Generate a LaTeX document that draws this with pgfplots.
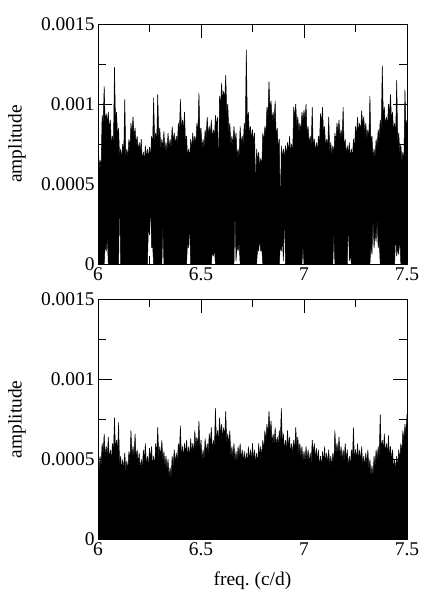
\documentclass[border=0pt]{standalone}
\usepackage{pgfplots}
\pgfplotsset{compat=1.18}
\usepackage{fontspec}
\setmainfont{Liberation Serif}
\newcommand{\lbl}{\fontsize{19.5}{23}\selectfont}
\pgfplotsset{spec/.style={scale only axis, width=309bp, height=240bp,
  xmin=6, xmax=7.5, ymin=0, ymax=0.0015,
  xtick={6,6.5,7,7.5}, xticklabels={6,6.5,7,7.5},
  ytick={0,0.0005,0.001,0.0015}, yticklabels={0,0.0005,0.001,0.0015},
  minor x tick num=1, minor y tick num=1, scaled y ticks=false,
  tick align=inside, major tick length=14bp, minor tick length=8bp,
  tick style={line width=0.8bp, black},
  axis line style={line width=0.8bp, black},
  tick label style={font=\lbl}, label style={font=\lbl},
  ylabel={amplitude},
  ylabel style={at={(axis description cs:-0.262,0.5)}, anchor=center},
}}
\begin{document}
\begin{tikzpicture}
\useasboundingbox (0,0) rectangle (436bp,600bp);
% top panel
\begin{axis}[spec, at={(98bp,336bp)}, anchor=south west]
\addplot[fill=black, draw=black, line width=0.5bp, line join=bevel, mark=none] coordinates {
(6.000,0.00090)(6.005,0.00059)(6.010,0.00065)(6.015,0.00059)(6.020,0.00093)(6.025,0.00087)(6.030,0.00111)(6.035,0.00088)(6.040,0.00094)(6.045,0.00088)
(6.050,0.00095)(6.055,0.00084)(6.060,0.00090)(6.065,0.00074)(6.070,0.00080)(6.075,0.00074)(6.080,0.00123)(6.085,0.00089)(6.090,0.00095)(6.095,0.00079)
(6.100,0.00085)(6.105,0.00066)(6.110,0.00072)(6.115,0.00066)(6.120,0.00075)(6.125,0.00069)(6.130,0.00103)(6.135,0.00066)(6.140,0.00072)(6.145,0.00066)
(6.150,0.00078)(6.155,0.00072)(6.160,0.00088)(6.165,0.00082)(6.170,0.00092)(6.175,0.00079)(6.180,0.00085)(6.185,0.00074)(6.190,0.00080)(6.195,0.00070)
(6.200,0.00076)(6.205,0.00070)(6.210,0.00078)(6.215,0.00064)(6.220,0.00070)(6.225,0.00064)(6.230,0.00074)(6.235,0.00066)(6.240,0.00072)(6.245,0.00066)
(6.250,0.00073)(6.255,0.00067)(6.260,0.00080)(6.265,0.00074)(6.270,0.00104)(6.275,0.00076)(6.280,0.00082)(6.285,0.00076)(6.290,0.00106)(6.295,0.00079)
(6.300,0.00085)(6.305,0.00072)(6.310,0.00078)(6.315,0.00072)(6.320,0.00083)(6.325,0.00070)(6.330,0.00076)(6.335,0.00070)(6.340,0.00082)(6.345,0.00072)
(6.350,0.00078)(6.355,0.00072)(6.360,0.00086)(6.365,0.00076)(6.370,0.00082)(6.375,0.00074)(6.380,0.00080)(6.385,0.00074)(6.390,0.00088)(6.395,0.00082)
(6.400,0.00103)(6.405,0.00084)(6.410,0.00090)(6.415,0.00084)(6.420,0.00095)(6.425,0.00074)(6.430,0.00080)(6.435,0.00066)(6.440,0.00072)(6.445,0.00066)
(6.450,0.00078)(6.455,0.00072)(6.460,0.00082)(6.465,0.00074)(6.470,0.00080)(6.475,0.00074)(6.480,0.00088)(6.485,0.00082)(6.490,0.00107)(6.495,0.00079)
(6.500,0.00085)(6.505,0.00072)(6.510,0.00078)(6.515,0.00072)(6.520,0.00084)(6.525,0.00078)(6.530,0.00092)(6.535,0.00080)(6.540,0.00086)(6.545,0.00080)
(6.550,0.00090)(6.555,0.00078)(6.560,0.00084)(6.565,0.00078)(6.570,0.00093)(6.575,0.00086)(6.580,0.00092)(6.585,0.00055)(6.590,0.00105)(6.595,0.00099)
(6.600,0.00113)(6.605,0.00102)(6.610,0.00108)(6.615,0.00102)(6.620,0.00118)(6.625,0.00094)(6.630,0.00100)(6.635,0.00082)(6.640,0.00088)(6.645,0.00074)
(6.650,0.00080)(6.655,0.00074)(6.660,0.00086)(6.665,0.00076)(6.670,0.00082)(6.675,0.00066)(6.680,0.00072)(6.685,0.00066)(6.690,0.00086)(6.695,0.00074)
(6.700,0.00080)(6.705,0.00074)(6.710,0.00088)(6.715,0.00082)(6.720,0.00134)(6.725,0.00089)(6.730,0.00095)(6.735,0.00080)(6.740,0.00086)(6.745,0.00078)
(6.750,0.00084)(6.755,0.00076)(6.760,0.00082)(6.765,0.00045)(6.770,0.00072)(6.775,0.00064)(6.780,0.00070)(6.785,0.00060)(6.790,0.00066)(6.795,0.00060)
(6.800,0.00082)(6.805,0.00076)(6.810,0.00086)(6.815,0.00080)(6.820,0.00098)(6.825,0.00092)(6.830,0.00114)(6.835,0.00096)(6.840,0.00102)(6.845,0.00089)
(6.850,0.00095)(6.855,0.00089)(6.860,0.00102)(6.865,0.00079)(6.870,0.00085)(6.875,0.00072)(6.880,0.00078)(6.885,0.00030)(6.890,0.00074)(6.895,0.00066)
(6.900,0.00072)(6.905,0.00066)(6.910,0.00074)(6.915,0.00068)(6.920,0.00076)(6.925,0.00070)(6.930,0.00080)(6.935,0.00069)(6.940,0.00075)(6.945,0.00069)
(6.950,0.00098)(6.955,0.00092)(6.960,0.00100)(6.965,0.00086)(6.970,0.00092)(6.975,0.00082)(6.980,0.00088)(6.985,0.00082)(6.990,0.00095)(6.995,0.00089)
(7.000,0.00096)(7.005,0.00090)(7.010,0.00100)(7.015,0.00080)(7.020,0.00086)(7.025,0.00074)(7.030,0.00080)(7.035,0.00074)(7.040,0.00098)(7.045,0.00072)
(7.050,0.00078)(7.055,0.00070)(7.060,0.00076)(7.065,0.00070)(7.070,0.00080)(7.075,0.00074)(7.080,0.00094)(7.085,0.00088)(7.090,0.00098)(7.095,0.00080)
(7.100,0.00086)(7.105,0.00072)(7.110,0.00078)(7.115,0.00072)(7.120,0.00092)(7.125,0.00070)(7.130,0.00076)(7.135,0.00068)(7.140,0.00074)(7.145,0.00068)
(7.150,0.00082)(7.155,0.00076)(7.160,0.00088)(7.165,0.00082)(7.170,0.00090)(7.175,0.00078)(7.180,0.00084)(7.185,0.00078)(7.190,0.00098)(7.195,0.00072)
(7.200,0.00078)(7.205,0.00068)(7.210,0.00074)(7.215,0.00068)(7.220,0.00076)(7.225,0.00066)(7.230,0.00072)(7.235,0.00066)(7.240,0.00078)(7.245,0.00072)
(7.250,0.00086)(7.255,0.00080)(7.260,0.00092)(7.265,0.00082)(7.270,0.00088)(7.275,0.00082)(7.280,0.00096)(7.285,0.00086)(7.290,0.00092)(7.295,0.00082)
(7.300,0.00088)(7.305,0.00078)(7.310,0.00084)(7.315,0.00078)(7.320,0.00105)(7.325,0.00074)(7.330,0.00080)(7.335,0.00066)(7.340,0.00072)(7.345,0.00066)
(7.350,0.00078)(7.355,0.00072)(7.360,0.00084)(7.365,0.00078)(7.370,0.00090)(7.375,0.00084)(7.380,0.00124)(7.385,0.00092)(7.390,0.00098)(7.395,0.00086)
(7.400,0.00092)(7.405,0.00086)(7.410,0.00100)(7.415,0.00094)(7.420,0.00106)(7.425,0.00089)(7.430,0.00095)(7.435,0.00082)(7.440,0.00088)(7.445,0.00082)
(7.450,0.00115)(7.455,0.00076)(7.460,0.00082)(7.465,0.00069)(7.470,0.00075)(7.475,0.00064)(7.480,0.00070)(7.485,0.00064)(7.490,0.00109)(7.495,0.00084)
(7.500,0.00090)
(7.500,0)
(7.470,0)(7.465,0.00018)(7.460,0.00006)(7.455,0.00010)(7.450,0.00005)(7.445,0.00020)(7.440,0)
(7.370,0)(7.365,0.00015)(7.360,0.00010)(7.355,0.00028)(7.350,0.00014)(7.345,0.00020)(7.340,0.00010)(7.335,0.00030)(7.330,0.00006)(7.325,0.00012)(7.320,0)
(7.230,0)(7.225,0.00006)(7.220,0.00002)(7.215,0.00030)(7.210,0)
(7.150,0)(7.145,0.00020)(7.140,0)
(7.000,0)(6.995,0.00012)(6.990,0)
(6.910,0)(6.905,0.00035)(6.900,0.00002)(6.895,0.00016)(6.890,0.00008)(6.885,0.00012)(6.880,0)
(6.800,0)(6.795,0.00010)(6.790,0.00008)(6.785,0.00016)(6.780,0.00008)(6.775,0.00010)(6.770,0)
(6.690,0)(6.685,0.00014)(6.680,0.00008)(6.675,0.00012)(6.670,0.00002)(6.665,0.00035)(6.660,0)
(6.570,0)(6.565,0.00010)(6.560,0.00005)(6.555,0.00008)(6.550,0)
(6.450,0)(6.445,0.00027)(6.440,0.00010)(6.435,0.00015)(6.430,0)
(6.320,0)(6.315,0.00025)(6.310,0)
(6.270,0)(6.265,0.00012)(6.260,0.00010)(6.255,0.00040)(6.250,0.00018)(6.245,0.00025)(6.240,0)
(6.110,0)(6.105,0.00045)(6.100,0)
(6.050,0)(6.045,0.00018)(6.040,0.00008)(6.035,0.00012)(6.030,0)
(6.000,0)
} -- cycle;
\end{axis}
% bottom panel
\begin{axis}[spec, at={(98bp,60.7bp)}, anchor=south west, xlabel={freq.\ (c/d)},
  xlabel style={at={(axis description cs:0.5,-0.171)}, anchor=center}]
\addplot[fill=black, draw=black, line width=0.5bp, line join=bevel, mark=none] coordinates {
(6.000,0.00048)(6.005,0.00041)(6.010,0.00052)(6.015,0.00045)(6.020,0.00060)(6.025,0.00053)(6.030,0.00066)(6.035,0.00051)(6.040,0.00058)(6.045,0.00051)
(6.050,0.00064)(6.055,0.00049)(6.060,0.00056)(6.065,0.00049)(6.070,0.00060)(6.075,0.00053)(6.080,0.00076)(6.085,0.00055)(6.090,0.00062)(6.095,0.00055)
(6.100,0.00073)(6.105,0.00045)(6.110,0.00052)(6.115,0.00043)(6.120,0.00050)(6.125,0.00043)(6.130,0.00054)(6.135,0.00042)(6.140,0.00049)(6.145,0.00042)
(6.150,0.00055)(6.155,0.00048)(6.160,0.00068)(6.165,0.00051)(6.170,0.00058)(6.175,0.00051)(6.180,0.00066)(6.185,0.00049)(6.190,0.00056)(6.195,0.00047)
(6.200,0.00054)(6.205,0.00043)(6.210,0.00050)(6.215,0.00043)(6.220,0.00056)(6.225,0.00049)(6.230,0.00060)(6.235,0.00045)(6.240,0.00052)(6.245,0.00045)
(6.250,0.00057)(6.255,0.00050)(6.260,0.00058)(6.265,0.00045)(6.270,0.00052)(6.275,0.00045)(6.280,0.00060)(6.285,0.00053)(6.290,0.00070)(6.295,0.00051)
(6.300,0.00058)(6.305,0.00051)(6.310,0.00062)(6.315,0.00048)(6.320,0.00055)(6.325,0.00045)(6.330,0.00052)(6.335,0.00043)(6.340,0.00050)(6.345,0.00038)
(6.350,0.00045)(6.355,0.00038)(6.360,0.00052)(6.365,0.00045)(6.370,0.00056)(6.375,0.00047)(6.380,0.00054)(6.385,0.00047)(6.390,0.00060)(6.395,0.00053)
(6.400,0.00071)(6.405,0.00051)(6.410,0.00058)(6.415,0.00051)(6.420,0.00060)(6.425,0.00053)(6.430,0.00062)(6.435,0.00051)(6.440,0.00058)(6.445,0.00051)
(6.450,0.00063)(6.455,0.00053)(6.460,0.00060)(6.465,0.00053)(6.470,0.00068)(6.475,0.00057)(6.480,0.00064)(6.485,0.00057)(6.490,0.00074)(6.495,0.00055)
(6.500,0.00062)(6.505,0.00049)(6.510,0.00056)(6.515,0.00049)(6.520,0.00063)(6.525,0.00053)(6.530,0.00060)(6.535,0.00053)(6.540,0.00066)(6.545,0.00059)
(6.550,0.00070)(6.555,0.00055)(6.560,0.00062)(6.565,0.00055)(6.570,0.00082)(6.575,0.00061)(6.580,0.00068)(6.585,0.00061)(6.590,0.00076)(6.595,0.00065)
(6.600,0.00072)(6.605,0.00063)(6.610,0.00070)(6.615,0.00063)(6.620,0.00080)(6.625,0.00059)(6.630,0.00066)(6.635,0.00059)(6.640,0.00068)(6.645,0.00051)
(6.650,0.00058)(6.655,0.00051)(6.660,0.00060)(6.665,0.00048)(6.670,0.00055)(6.675,0.00048)(6.680,0.00058)(6.685,0.00051)(6.690,0.00060)(6.695,0.00049)
(6.700,0.00056)(6.705,0.00048)(6.710,0.00055)(6.715,0.00047)(6.720,0.00054)(6.725,0.00047)(6.730,0.00058)(6.735,0.00049)(6.740,0.00056)(6.745,0.00049)
(6.750,0.00060)(6.755,0.00049)(6.760,0.00056)(6.765,0.00047)(6.770,0.00054)(6.775,0.00047)(6.780,0.00060)(6.785,0.00051)(6.790,0.00058)(6.795,0.00051)
(6.800,0.00062)(6.805,0.00055)(6.810,0.00068)(6.815,0.00061)(6.820,0.00072)(6.825,0.00065)(6.830,0.00080)(6.835,0.00067)(6.840,0.00074)(6.845,0.00059)
(6.850,0.00066)(6.855,0.00059)(6.860,0.00070)(6.865,0.00057)(6.870,0.00064)(6.875,0.00057)(6.880,0.00068)(6.885,0.00061)(6.890,0.00082)(6.895,0.00059)
(6.900,0.00066)(6.905,0.00055)(6.910,0.00062)(6.915,0.00055)(6.920,0.00068)(6.925,0.00057)(6.930,0.00064)(6.935,0.00053)(6.940,0.00060)(6.945,0.00053)
(6.950,0.00062)(6.955,0.00055)(6.960,0.00070)(6.965,0.00057)(6.970,0.00064)(6.975,0.00053)(6.980,0.00060)(6.985,0.00051)(6.990,0.00058)(6.995,0.00048)
(7.000,0.00055)(7.005,0.00048)(7.010,0.00058)(7.015,0.00049)(7.020,0.00056)(7.025,0.00047)(7.030,0.00054)(7.035,0.00047)(7.040,0.00062)(7.045,0.00053)
(7.050,0.00060)(7.055,0.00050)(7.060,0.00057)(7.065,0.00049)(7.070,0.00056)(7.075,0.00045)(7.080,0.00052)(7.085,0.00045)(7.090,0.00055)(7.095,0.00048)
(7.100,0.00058)(7.105,0.00047)(7.110,0.00054)(7.115,0.00047)(7.120,0.00056)(7.125,0.00045)(7.130,0.00052)(7.135,0.00045)(7.140,0.00054)(7.145,0.00047)
(7.150,0.00068)(7.155,0.00053)(7.160,0.00060)(7.165,0.00053)(7.170,0.00064)(7.175,0.00051)(7.180,0.00058)(7.185,0.00049)(7.190,0.00056)(7.195,0.00049)
(7.200,0.00060)(7.205,0.00049)(7.210,0.00056)(7.215,0.00045)(7.220,0.00052)(7.225,0.00045)(7.230,0.00056)(7.235,0.00049)(7.240,0.00070)(7.245,0.00049)
(7.250,0.00056)(7.255,0.00049)(7.260,0.00060)(7.265,0.00049)(7.270,0.00056)(7.275,0.00049)(7.280,0.00058)(7.285,0.00045)(7.290,0.00052)(7.295,0.00045)
(7.300,0.00054)(7.305,0.00047)(7.310,0.00056)(7.315,0.00043)(7.320,0.00050)(7.325,0.00039)(7.330,0.00046)(7.335,0.00039)(7.340,0.00052)(7.345,0.00045)
(7.350,0.00056)(7.355,0.00049)(7.360,0.00058)(7.365,0.00051)(7.370,0.00078)(7.375,0.00055)(7.380,0.00062)(7.385,0.00055)(7.390,0.00066)(7.395,0.00053)
(7.400,0.00060)(7.405,0.00053)(7.410,0.00065)(7.415,0.00051)(7.420,0.00058)(7.425,0.00049)(7.430,0.00056)(7.435,0.00043)(7.440,0.00050)(7.445,0.00043)
(7.450,0.00052)(7.455,0.00045)(7.460,0.00056)(7.465,0.00049)(7.470,0.00060)(7.475,0.00053)(7.480,0.00068)(7.485,0.00061)(7.490,0.00072)(7.495,0.00065)
(7.500,0.00078)
} \closedcycle;
\end{axis}
\end{tikzpicture}
\end{document}
